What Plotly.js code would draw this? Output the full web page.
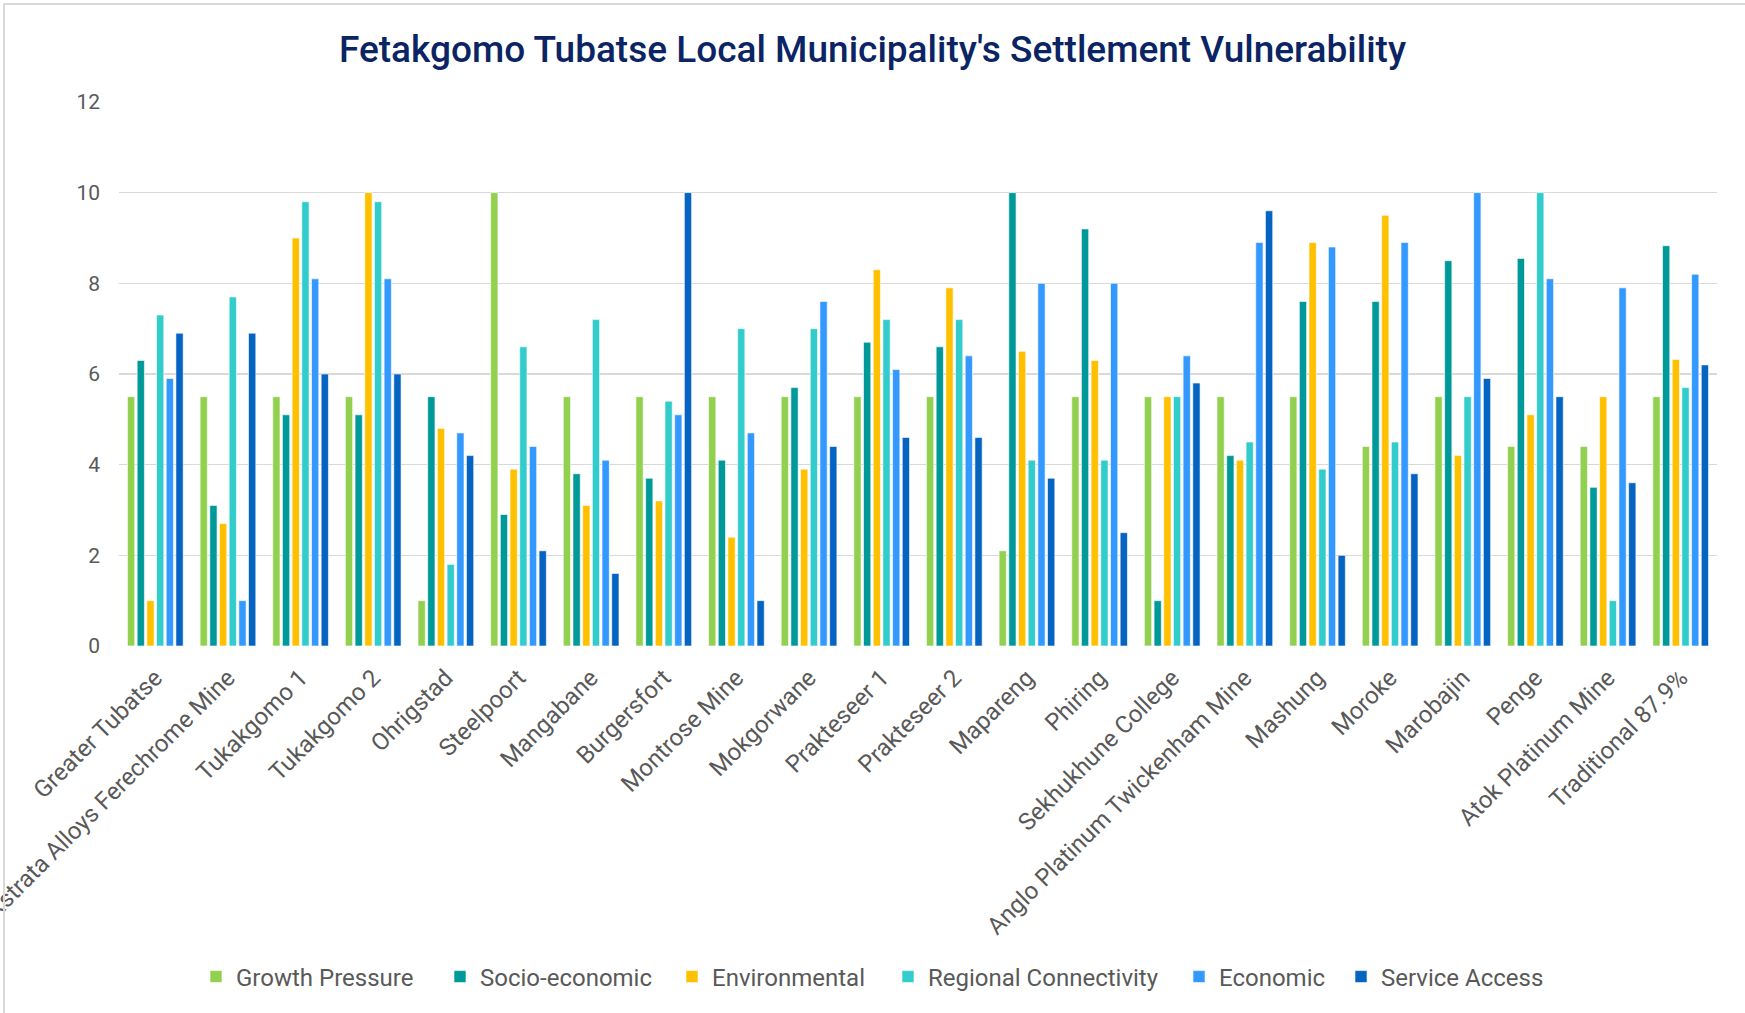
<!DOCTYPE html>
<html>
<head>
<meta charset="utf-8">
<script src="https://cdn.plot.ly/plotly-3.0.1.min.js"></script>
<style>
  html, body { margin: 0; padding: 0; background: #ffffff; }
  #chart { width: 1745px; height: 1013px; }
  #frame { position: absolute; left: 3px; top: 3px; width: 1742px; height: 1010px;
           border-top: 2px solid #d9d9d9; border-left: 2px solid #d9d9d9; pointer-events: none; box-sizing: border-box; }
</style>
</head>
<body>
<div id="chart"></div>
<div id="frame"></div>
<script>
const categories = [
  "Greater Tubatse", "Xstrata Alloys Ferechrome Mine", "Tukakgomo 1", "Tukakgomo 2",
  "Ohrigstad", "Steelpoort", "Mangabane", "Burgersfort", "Montrose Mine", "Mokgorwane",
  "Prakteseer 1", "Prakteseer 2", "Mapareng", "Phiring", "Sekhukhune College",
  "Anglo Platinum Twickenham Mine", "Mashung", "Moroke", "Marobajin", "Penge",
  "Atok Platinum Mine", "Traditional 87.9%"
];

const growthPressure = [5.5, 5.5, 5.5, 5.5, 1.0, 10, 5.5, 5.5, 5.5, 5.5, 5.5, 5.5, 2.1, 5.5, 5.5, 5.5, 5.5, 4.4, 5.5, 4.4, 4.4, 5.5];
const socioEconomic  = [6.3, 3.1, 5.1, 5.1, 5.5, 2.9, 3.8, 3.7, 4.1, 5.7, 6.7, 6.6, 10, 9.2, 1.0, 4.2, 7.6, 7.6, 8.5, 8.55, 3.5, 8.83];
const environmental  = [1.0, 2.7, 9.0, 10, 4.8, 3.9, 3.1, 3.2, 2.4, 3.9, 8.3, 7.9, 6.5, 6.3, 5.5, 4.1, 8.9, 9.5, 4.2, 5.1, 5.5, 6.32];
const regionalConn   = [7.3, 7.7, 9.8, 9.8, 1.8, 6.6, 7.2, 5.4, 7.0, 7.0, 7.2, 7.2, 4.1, 4.1, 5.5, 4.5, 3.9, 4.5, 5.5, 10, 1.0, 5.7];
const economic       = [5.9, 1.0, 8.1, 8.1, 4.7, 4.4, 4.1, 5.1, 4.7, 7.6, 6.1, 6.4, 8.0, 8.0, 6.4, 8.9, 8.8, 8.9, 10, 8.1, 7.9, 8.2];
const serviceAccess  = [6.9, 6.9, 6.0, 6.0, 4.2, 2.1, 1.6, 10, 1.0, 4.4, 4.6, 4.6, 3.7, 2.5, 5.8, 9.6, 2.0, 3.8, 5.9, 5.5, 3.6, 6.2];

const seriesNames  = ["Growth Pressure", "Socio-economic", "Environmental", "Regional Connectivity", "Economic", "Service Access"];
const seriesValues = [growthPressure, socioEconomic, environmental, regionalConn, economic, serviceAccess];
const seriesColors = ["#92D050", "#009999", "#FFC000", "#33CCCC", "#3399FF", "#0563C1"];

const yTicks = [0, 2, 4, 6, 8, 10, 12];

// left edge (px) of each legend entry, one legend per series
const legendLeft = [196, 440, 672, 888, 1179, 1341];

const legendKeys = seriesNames.map((_, i) => (i === 0 ? "legend" : "legend" + (i + 1)));

const traces = seriesNames.map((name, i) => ({
  type: "bar",
  name: name,
  x: categories,
  y: seriesValues[i],
  legend: legendKeys[i],
  marker: { color: seriesColors[i], line: { color: "#ffffff", width: 0.6 } },
  hoverinfo: "x+y+name"
}));

const baseFont = "Roboto, 'Noto Sans', sans-serif";

const layout = {
  width: 1745,
  height: 1013,
  paper_bgcolor: "#ffffff",
  plot_bgcolor: "#ffffff",
  margin: { l: 119, r: 28, t: 102, b: 367, pad: 0 },
  font: { family: baseFont, color: "#595959", size: 20 },
  title: {
    text: "Fetakgomo Tubatse Local Municipality's Settlement Vulnerability",
    font: { family: baseFont, size: 37, color: "#0B2464", weight: 500 },
    x: 0.5, xref: "container", xanchor: "center",
    y: 1 - 49 / 1013, yref: "container", yanchor: "middle"
  },
  barmode: "group",
  bargap: 0.2,
  bargroupgap: 0.25,
  xaxis: {
    type: "category",
    tickangle: -45,
    tickfont: { size: 24, color: "#595959" },
    ticklabelstandoff: 12,
    showgrid: false,
    showline: false,
    ticks: "",
    automargin: false,
    fixedrange: true
  },
  yaxis: {
    range: [0, 12],
    tickvals: yTicks,
    ticktext: yTicks.map(String),
    tickfont: { size: 21, color: "#595959" },
    showgrid: true,
    gridcolor: "#d9d9d9",
    gridwidth: 1.5,
    zeroline: false,
    showline: false,
    ticks: "",
    ticklabelstandoff: 18,
    automargin: false,
    fixedrange: true
  },
  showlegend: true
};

legendKeys.forEach((key, i) => {
  layout[key] = {
    orientation: "h",
    xref: "container", x: legendLeft[i] / 1745, xanchor: "left",
    yref: "container", y: 1 - 977 / 1013, yanchor: "middle",
    font: { size: 24, color: "#595959", family: baseFont },
    itemwidth: 30,
    bgcolor: "rgba(0,0,0,0)"
  };
});

Plotly.newPlot("chart", traces, layout, { displayModeBar: false, staticPlot: true });
</script>
</body>
</html>
